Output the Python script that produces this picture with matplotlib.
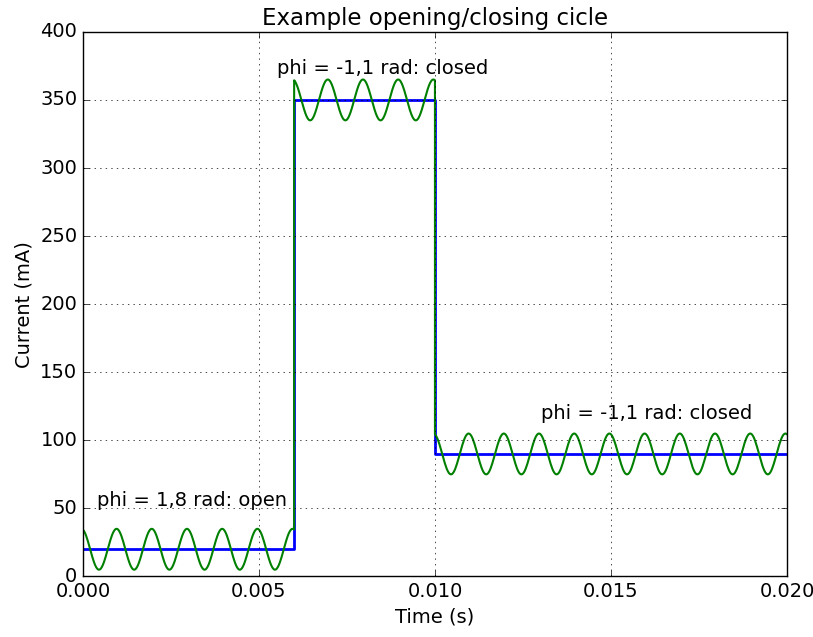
import numpy as np
import matplotlib
matplotlib.use("Agg")
import matplotlib.pyplot as plt

# segment data: start/end time (s), mean level (mA), ripple amplitude (mA), phase (rad)
seg_start = [0.000, 0.006, 0.010]
seg_end = [0.006, 0.010, 0.020]
levels = [20, 350, 90]
ripple = [15, 15, 15]
phases = [1.85, 1.85, 1.85]
freq = 1000.0

labels = ["phi = 1,8 rad: open", "phi = -1,1 rad: closed", "phi = -1,1 rad: closed"]
label_x = [0.0004, 0.0055, 0.0130]
label_y = [56, 373, 120]

plt.style.use('classic')
plt.rcParams['figure.facecolor'] = 'white'
plt.rcParams['font.size'] = 14

fig = plt.figure(figsize=(8.13, 6.37), dpi=100)
ax = fig.add_axes([0.102, 0.095, 0.866, 0.855])

# step line (mean current)
t_step = []
y_step = []
for a, b, lv in zip(seg_start, seg_end, levels):
    t_step += [a, b]
    y_step += [lv, lv]
ax.plot(t_step, y_step, color='b', linewidth=2)

# current with ripple
t_all = []
y_all = []
for a, b, lv, amp, ph in zip(seg_start, seg_end, levels, ripple, phases):
    t = np.linspace(a, b, 400)
    t_all.append(t)
    y_all.append(lv + amp * np.sin(2 * np.pi * freq * t + ph))
ax.plot(np.concatenate(t_all), np.concatenate(y_all), color='g', linewidth=1.5)

for txt, x, y in zip(labels, label_x, label_y):
    ax.text(x, y, txt, fontsize=14, va='center')

ax.set_xlim(0, 0.020)
ax.set_ylim(0, 400)
ax.set_xticks([0.000, 0.005, 0.010, 0.015, 0.020])
ax.set_xticklabels(["0.000", "0.005", "0.010", "0.015", "0.020"])
ax.tick_params(labelsize=14)
ax.grid(True)
ax.set_title("Example opening/closing cicle", fontsize=16.5)
ax.set_xlabel("Time (s)", fontsize=14)
ax.set_ylabel("Current (mA)", fontsize=14)

fig.savefig("out.png", dpi=100, facecolor='white')
